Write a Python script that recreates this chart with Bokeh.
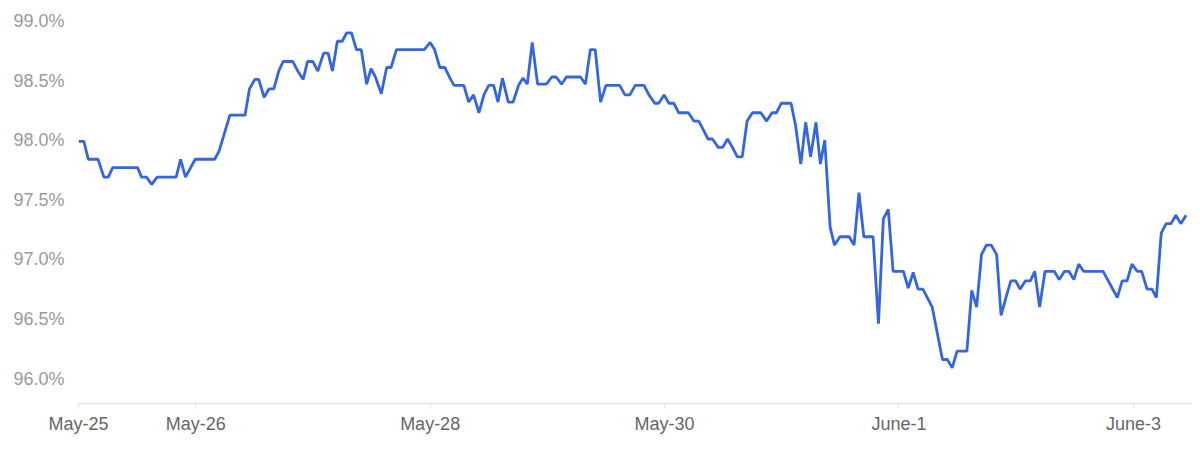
from bokeh.plotting import figure
from bokeh.models import FixedTicker, PrintfTickFormatter, Range1d, ColumnDataSource
from bokeh.embed import file_html
from bokeh.resources import INLINE

# hours since May-25 00:00
hours = [0.0, 1.1, 2.0, 4.0, 5.2, 6.1, 7.0, 12.1, 12.9, 13.9,
         15.0, 16.1, 20.0, 20.9, 21.9, 23.9, 27.9, 28.8, 31.0, 34.1,
         35.0, 36.1, 36.9, 38.0, 39.0, 40.0, 41.0, 41.9, 43.9, 44.9,
         46.0, 46.9, 48.0, 49.0, 50.2, 51.1, 52.0, 53.0, 54.0, 54.9,
         55.9, 56.9, 57.9, 59.0, 59.9, 60.8, 62.0, 63.1, 64.0, 65.1,
         70.8, 72.0, 72.9, 74.0, 75.0, 76.2, 76.9, 78.9, 79.9, 80.9,
         82.0, 83.0, 84.0, 85.0, 85.9, 86.8, 88.0, 89.0, 90.1, 91.0,
         91.9, 92.9, 94.0, 95.8, 96.9, 97.8, 98.9, 99.9, 102.8, 103.8,
         104.8, 105.8, 106.9, 108.0, 110.8, 111.9, 112.9, 114.0, 115.8, 116.8,
         118.0, 118.8, 119.9, 120.9, 121.9, 122.9, 124.9, 126.0, 127.0, 127.9,
         128.9, 129.8, 131.0, 131.9, 132.9, 133.9, 134.9, 135.9, 136.9, 138.0,
         139.7, 140.9, 142.0, 142.9, 143.9, 145.9, 146.8, 147.9, 148.9, 149.9,
         151.0, 151.9, 152.8, 153.9, 154.8, 155.9, 157.8, 158.8, 159.8, 160.8,
         162.7, 163.8, 164.8, 165.8, 166.8, 168.9, 169.9, 170.9, 171.9, 172.9,
         173.8, 174.8, 176.9, 177.9, 178.9, 179.9, 181.9, 182.9, 183.9, 184.9,
         185.9, 186.9, 188.0, 188.9, 189.9, 190.9, 191.9, 192.8, 193.9, 194.9,
         195.8, 196.8, 197.9, 199.8, 200.8, 201.9, 202.8, 203.8, 204.8, 205.8,
         209.8, 212.7, 213.7, 214.7, 215.7, 216.8, 217.7, 218.8, 219.8, 220.7,
         221.7, 222.7, 223.7, 224.7, 225.7, 226.8]

values = [97.99, 97.99, 97.84, 97.84, 97.69, 97.69, 97.77, 97.77, 97.69, 97.69,
          97.63, 97.69, 97.69, 97.84, 97.69, 97.84, 97.84, 97.91, 98.21, 98.21,
          98.43, 98.51, 98.51, 98.36, 98.43, 98.43, 98.58, 98.66, 98.66, 98.58,
          98.51, 98.66, 98.66, 98.58, 98.73, 98.73, 98.58, 98.83, 98.83, 98.90,
          98.90, 98.76, 98.76, 98.47, 98.60, 98.53, 98.39, 98.61, 98.61, 98.76,
          98.76, 98.82, 98.76, 98.61, 98.61, 98.51, 98.46, 98.46, 98.32, 98.38,
          98.23, 98.38, 98.46, 98.46, 98.32, 98.52, 98.32, 98.32, 98.46, 98.52,
          98.47, 98.82, 98.47, 98.47, 98.53, 98.53, 98.47, 98.53, 98.53, 98.47,
          98.76, 98.76, 98.32, 98.46, 98.46, 98.38, 98.38, 98.46, 98.46, 98.38,
          98.31, 98.31, 98.38, 98.31, 98.31, 98.23, 98.23, 98.16, 98.16, 98.09,
          98.01, 98.01, 97.94, 97.94, 98.01, 97.94, 97.86, 97.86, 98.16, 98.23,
          98.23, 98.16, 98.23, 98.23, 98.31, 98.31, 98.13, 97.80, 98.15, 97.86,
          98.15, 97.80, 98.00, 97.27, 97.12, 97.19, 97.19, 97.12, 97.56, 97.19,
          97.19, 96.46, 97.34, 97.42, 96.90, 96.90, 96.76, 96.89, 96.75, 96.75,
          96.68, 96.60, 96.16, 96.16, 96.09, 96.23, 96.23, 96.74, 96.60, 97.04,
          97.12, 97.12, 97.04, 96.53, 96.68, 96.82, 96.82, 96.75, 96.82, 96.82,
          96.90, 96.60, 96.90, 96.90, 96.83, 96.90, 96.90, 96.83, 96.96, 96.90,
          96.90, 96.68, 96.82, 96.82, 96.96, 96.90, 96.90, 96.75, 96.75, 96.68,
          97.22, 97.30, 97.30, 97.37, 97.30, 97.37]

tick_days = [0, 1, 3, 5, 7, 9]
tick_labels = ["May-25", "May-26", "May-28", "May-30", "June-1", "June-3"]
y_ticks = [96.0, 96.5, 97.0, 97.5, 98.0, 98.5, 99.0]

assert len(hours) == len(values)

src = ColumnDataSource(data=dict(h=hours, v=values))

p = figure(width=1192, height=443, output_backend="svg", toolbar_location=None,
           x_range=Range1d(0, 228.1), y_range=Range1d(95.791, 99.088),
           min_border_left=78, min_border_right=0, min_border_top=10,
           min_border_bottom=40)
p.outline_line_color = None
p.xgrid.visible = False
p.ygrid.visible = False
p.background_fill_color = "white"
p.border_fill_color = "white"

p.line("h", "v", source=src, line_width=2.8, line_color="#3366E0")

xa = p.xaxis[0]
xa.ticker = FixedTicker(ticks=[d * 24 for d in tick_days])
xa.major_label_overrides = {d * 24: lab for d, lab in zip(tick_days, tick_labels)}
xa.axis_line_color = "#e2e2e2"
xa.axis_line_width = 1.5
xa.major_tick_line_color = "#e2e2e2"
xa.major_tick_out = 5
xa.major_tick_in = 0
xa.minor_tick_line_color = None
xa.major_label_standoff = 5
xa.major_label_text_font = "Liberation Sans"
xa.major_label_text_font_size = "18px"
xa.major_label_text_color = "#666666"

ya = p.yaxis[0]
ya.ticker = FixedTicker(ticks=y_ticks)
ya.formatter = PrintfTickFormatter(format="%.1f%%")
ya.axis_line_color = None
ya.major_tick_line_color = None
ya.minor_tick_line_color = None
ya.major_label_standoff = 8
ya.major_label_text_font = "Liberation Sans"
ya.major_label_text_font_size = "18px"
ya.major_label_text_color = "#9a9a9a"

open("out.html", "w").write(file_html(p, INLINE))
